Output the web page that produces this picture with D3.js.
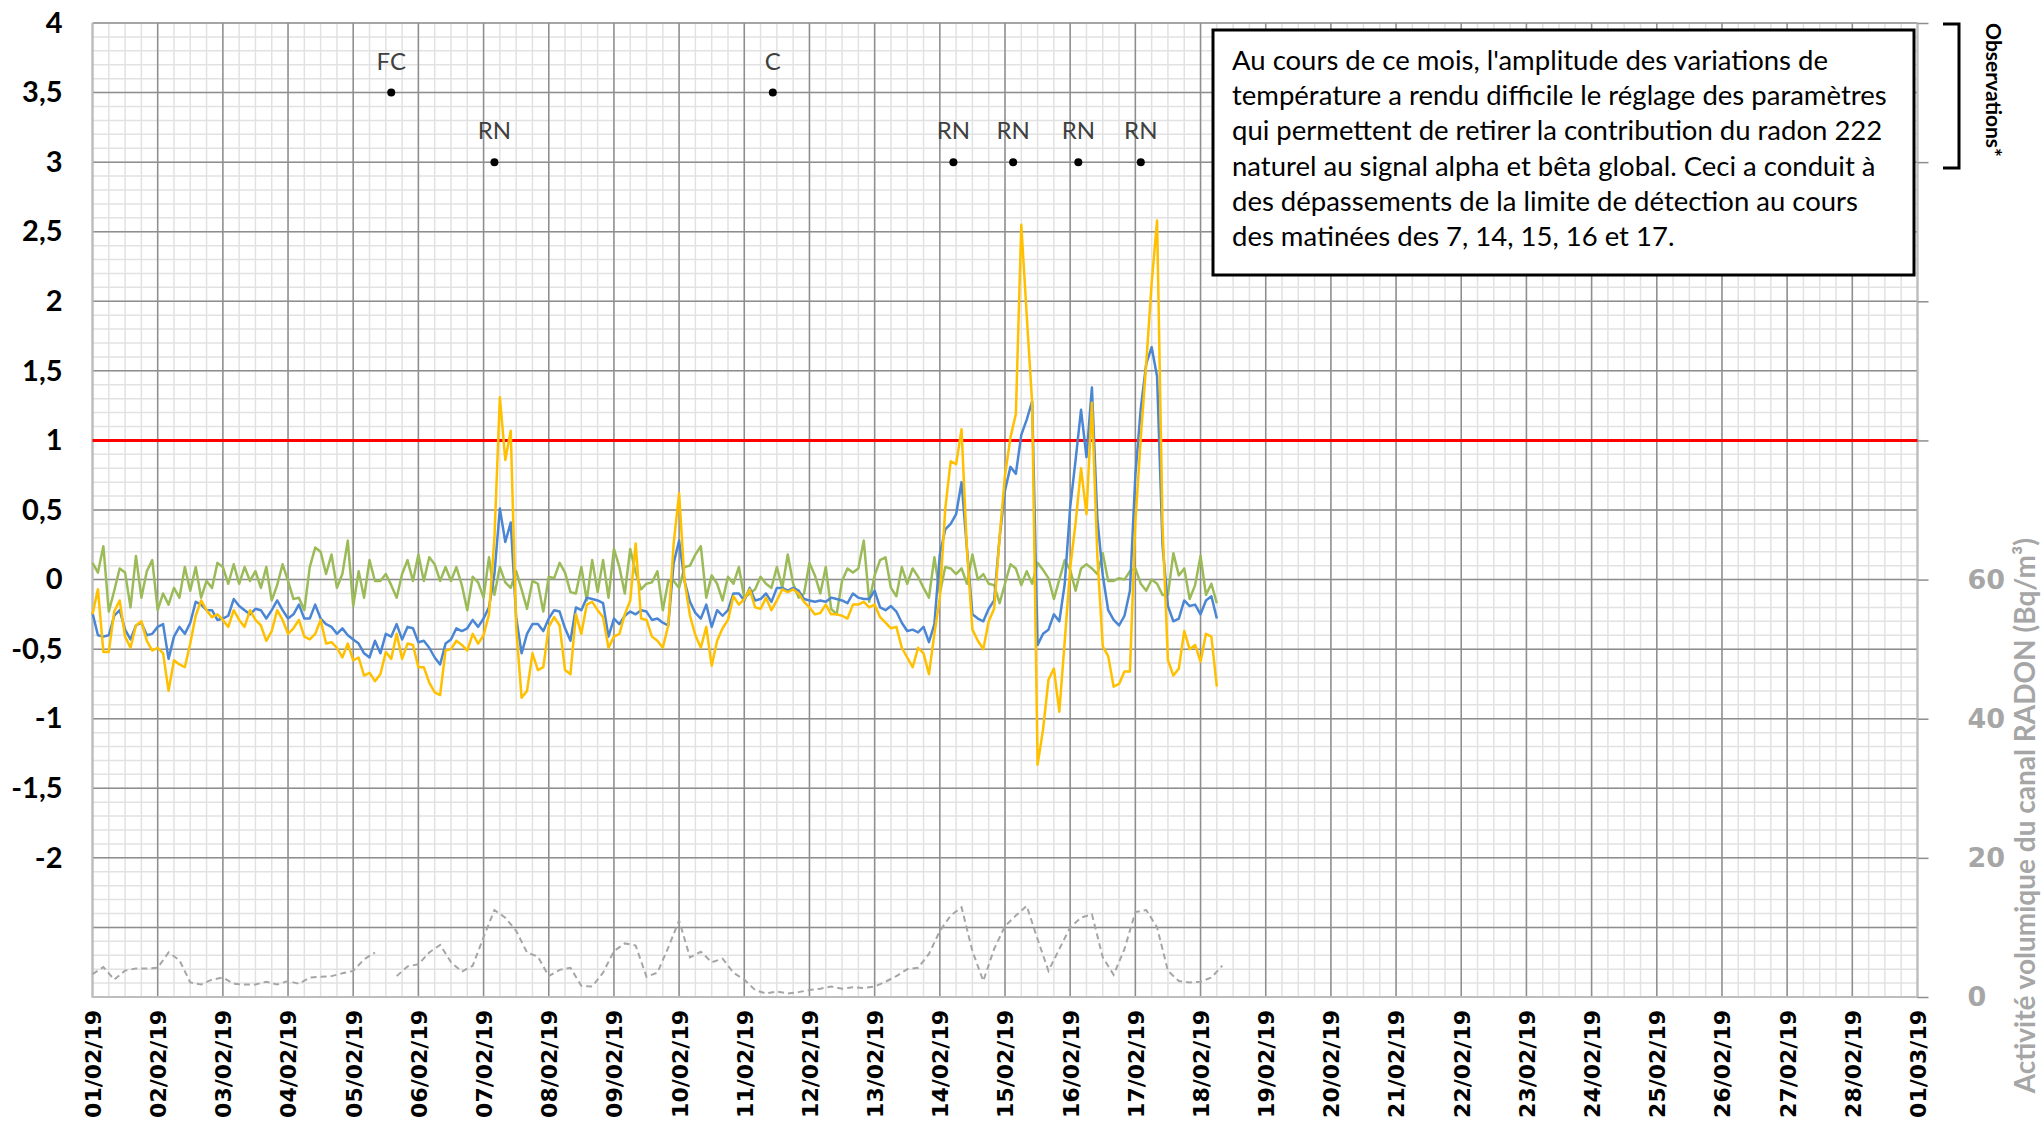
<!DOCTYPE html>
<html>
<head>
<meta charset="utf-8">
<script src="https://cdn.jsdelivr.net/npm/d3@7"></script>
<style>
  body { margin: 0; background: #fff; }
  svg { display: block; }
</style>
</head>
<body>
<div class="chart"></div>
<script>
// Series are sampled every 2 hours starting 01/02/19 00:00 (radon every 4 hours)
let startDate = new Date(2019, 1, 1);
let endDate = new Date(2019, 2, 1);
let stepHours = 2;
let radonStepHours = 4;

// blue series
let alpha = [
  -0.24, -0.40, -0.41, -0.40, -0.26, -0.22, -0.36, -0.43, -0.33, -0.31, -0.40, -0.39,
  -0.34, -0.32, -0.57, -0.41, -0.34, -0.39, -0.31, -0.16, -0.18, -0.22, -0.22, -0.29,
  -0.28, -0.26, -0.14, -0.19, -0.22, -0.25, -0.21, -0.22, -0.28, -0.22, -0.15, -0.22,
  -0.28, -0.25, -0.18, -0.28, -0.28, -0.18, -0.28, -0.32, -0.34, -0.39, -0.35, -0.40,
  -0.43, -0.46, -0.53, -0.56, -0.44, -0.53, -0.39, -0.41, -0.32, -0.43, -0.34, -0.35,
  -0.45, -0.44, -0.49, -0.56, -0.61, -0.46, -0.43, -0.35, -0.37, -0.35, -0.29, -0.34,
  -0.28, -0.20, 0.04, 0.51, 0.27, 0.41, -0.27, -0.53, -0.39, -0.32, -0.32, -0.37,
  -0.28, -0.22, -0.23, -0.35, -0.44, -0.20, -0.22, -0.13, -0.14, -0.15, -0.17, -0.41,
  -0.28, -0.32, -0.26, -0.23, -0.25, -0.22, -0.23, -0.29, -0.28, -0.31, -0.33, 0.12,
  0.28, -0.01, -0.16, -0.24, -0.28, -0.18, -0.34, -0.22, -0.26, -0.22, -0.10, -0.10,
  -0.15, -0.06, -0.15, -0.14, -0.10, -0.16, -0.06, -0.06, -0.08, -0.06, -0.08, -0.14,
  -0.15, -0.16, -0.15, -0.16, -0.13, -0.14, -0.15, -0.17, -0.10, -0.13, -0.14, -0.14,
  -0.08, -0.20, -0.22, -0.19, -0.23, -0.31, -0.37, -0.36, -0.38, -0.34, -0.45, -0.32,
  0.18, 0.36, 0.40, 0.47, 0.70, 0.22, -0.25, -0.28, -0.30, -0.21, -0.15, 0.30,
  0.64, 0.81, 0.76, 1.04, 1.15, 1.28, -0.47, -0.39, -0.36, -0.25, -0.30, -0.03,
  0.52, 0.86, 1.22, 0.88, 1.38, 0.44, 0.03, -0.22, -0.29, -0.33, -0.26, -0.08,
  0.75, 1.23, 1.55, 1.67, 1.46, 0.25, -0.19, -0.30, -0.28, -0.15, -0.19, -0.18,
  -0.25, -0.15, -0.12, -0.28
];

// yellow series
let beta = [
  -0.25, -0.07, -0.52, -0.52, -0.23, -0.15, -0.41, -0.49, -0.33, -0.30, -0.44, -0.51,
  -0.49, -0.53, -0.80, -0.58, -0.61, -0.63, -0.46, -0.26, -0.15, -0.22, -0.27, -0.25,
  -0.29, -0.34, -0.22, -0.29, -0.34, -0.22, -0.29, -0.33, -0.44, -0.37, -0.22, -0.29,
  -0.39, -0.35, -0.29, -0.41, -0.43, -0.39, -0.29, -0.46, -0.45, -0.49, -0.56, -0.46,
  -0.58, -0.56, -0.69, -0.67, -0.73, -0.68, -0.52, -0.57, -0.39, -0.57, -0.46, -0.47,
  -0.63, -0.63, -0.74, -0.81, -0.83, -0.51, -0.50, -0.44, -0.47, -0.51, -0.39, -0.46,
  -0.40, -0.25, 0.30, 1.31, 0.86, 1.07, -0.34, -0.85, -0.80, -0.53, -0.65, -0.63,
  -0.34, -0.27, -0.33, -0.65, -0.68, -0.25, -0.39, -0.18, -0.16, -0.22, -0.27, -0.49,
  -0.41, -0.39, -0.25, -0.15, 0.26, -0.28, -0.29, -0.41, -0.44, -0.49, -0.33, 0.26,
  0.62, -0.01, -0.26, -0.40, -0.49, -0.34, -0.62, -0.44, -0.35, -0.29, -0.12, -0.18,
  -0.14, -0.07, -0.20, -0.21, -0.13, -0.22, -0.15, -0.07, -0.09, -0.07, -0.10, -0.16,
  -0.20, -0.25, -0.24, -0.18, -0.25, -0.25, -0.26, -0.28, -0.18, -0.18, -0.16, -0.20,
  -0.18, -0.27, -0.31, -0.35, -0.34, -0.49, -0.56, -0.63, -0.49, -0.53, -0.68, -0.39,
  -0.13, 0.51, 0.85, 0.83, 1.08, 0.21, -0.36, -0.44, -0.50, -0.30, -0.21, 0.30,
  0.75, 1.02, 1.19, 2.55, 1.90, 1.27, -1.33, -1.08, -0.72, -0.64, -0.95, -0.44,
  0.08, 0.41, 0.80, 0.47, 1.27, 0.17, -0.48, -0.55, -0.77, -0.75, -0.66, -0.66,
  0.41, 1.02, 1.55, 2.13, 2.58, 0.39, -0.58, -0.69, -0.64, -0.37, -0.50, -0.47,
  -0.59, -0.39, -0.41, -0.77
];

// green series
let gamma = [
  0.12, 0.05, 0.24, -0.23, -0.08, 0.08, 0.05, -0.20, 0.17, -0.13, 0.06, 0.14,
  -0.22, -0.10, -0.18, -0.06, -0.13, 0.09, -0.08, 0.09, -0.13, -0.01, -0.06, 0.12,
  0.09, -0.03, 0.11, -0.03, 0.09, -0.01, 0.06, -0.06, 0.09, -0.15, -0.04, 0.11,
  -0.01, -0.14, -0.13, -0.22, 0.09, 0.23, 0.20, 0.04, 0.18, -0.06, 0.04, 0.28,
  -0.19, 0.06, -0.13, 0.14, -0.01, -0.01, 0.04, -0.04, -0.13, 0.04, 0.14, -0.01,
  0.18, -0.01, 0.16, 0.11, -0.01, 0.09, -0.01, 0.09, -0.04, -0.22, 0.02, -0.02,
  -0.13, 0.16, -0.11, 0.09, -0.02, -0.06, 0.06, -0.07, -0.21, -0.01, -0.03, -0.23,
  0.02, 0.01, 0.12, 0.05, -0.09, -0.10, 0.09, -0.15, 0.14, -0.09, 0.14, -0.13,
  0.22, 0.09, -0.10, 0.22, 0.05, -0.07, -0.03, -0.02, 0.06, -0.22, -0.01, -0.01,
  -0.06, 0.09, 0.10, 0.18, 0.24, -0.13, 0.03, -0.03, -0.15, 0.02, -0.03, 0.09,
  -0.13, -0.10, -0.07, 0.02, -0.03, -0.06, 0.09, -0.06, 0.18, -0.03, -0.13, -0.10,
  0.12, 0.03, -0.10, 0.09, -0.21, -0.25, -0.01, 0.08, 0.05, 0.08, 0.28, -0.16,
  0.03, 0.14, 0.16, -0.06, -0.12, 0.09, -0.03, 0.08, 0.02, -0.06, -0.13, 0.16,
  -0.10, 0.09, 0.08, 0.04, 0.08, -0.03, 0.18, 0.00, 0.04, -0.03, -0.04, -0.17,
  -0.03, 0.11, 0.08, -0.04, 0.06, -0.03, 0.12, 0.07, 0.01, -0.14, 0.00, 0.14,
  0.07, -0.08, 0.08, 0.11, 0.08, 0.04, 0.19, -0.01, -0.01, 0.01, 0.00, 0.06,
  0.08, -0.03, -0.08, 0.00, -0.03, -0.11, -0.11, 0.19, 0.03, 0.08, -0.14, -0.04,
  0.17, -0.11, -0.03, -0.17
];

// radon activity (Bq/m3), right axis, null = missing sample
let radon = [
  3.3, 4.3, 2.5, 3.8, 4.1, 4.1,
  4.2, 6.4, 5.3, 2.1, 1.8, 2.5,
  2.8, 1.9, 1.8, 1.8, 2.2, 1.8,
  2.3, 1.9, 2.8, 2.9, 3.0, 3.4,
  3.75, 5.4, 6.4, null, 3.0, 4.4,
  4.7, 6.4, 7.5, 5.0, 3.65, 4.5,
  8.6, 12.5, 11.4, 9.5, 6.4, 5.8,
  3.0, 3.9, 4.2, 1.6, 1.5, 3.5,
  6.6, 7.7, 7.4, 2.9, 3.5, 7.1,
  11.0, 5.7, 6.5, 5.0, 5.5, 3.5,
  2.5, 1.0, 0.5, 0.8, 0.5, 0.7,
  1.0, 1.2, 1.5, 1.2, 1.4, 1.3,
  1.5, 2.2, 3.0, 4.0, 4.2, 6.2,
  9.5, 11.7, 12.9, 6.6, 2.3, 6.9,
  10.2, 11.7, 13.1, 8.3, 3.75, 6.9,
  10.0, 11.4, 11.9, 5.7, 3.2, 6.9,
  12.2, 12.5, 10.0, 3.75, 2.3, 2.1,
  2.2, 2.8, 4.5
];

let detectionLimit = 1;
let leftTicks = [-2, -1.5, -1, -0.5, 0, 0.5, 1, 1.5, 2, 2.5, 3, 3.5, 4];
let rightTicks = [0, 20, 40, 60, 80, 100, 120, 140];
let rightLabels = [0, 20, 40, 60];

let noteLabels = ["FC", "C", "RN", "RN", "RN", "RN", "RN"];
let noteTimes = ["05/02/19 14:00", "11/02/19 10:30", "07/02/19 04:00", "14/02/19 05:00",
  "15/02/19 03:00", "16/02/19 03:00", "17/02/19 02:00"];
let noteLevels = [3.5, 3.5, 3, 3, 3, 3, 3];

let boxLines = [
  "Au cours de ce mois, l'amplitude des variations de",
  "température a rendu difficile le réglage des paramètres",
  "qui permettent de retirer la contribution du radon 222",
  "naturel au signal alpha et bêta global. Ceci a conduit à",
  "des dépassements de la limite de détection au cours",
  "des matinées des 7, 14, 15, 16 et 17."
];

let svgWidth = 2044;
let svgHeight = 1122;
let margin = { top: 23, right: 126.5, bottom: 125, left: 92.5 };
let width = svgWidth - margin.left - margin.right;
let height = svgHeight - margin.top - margin.bottom;

let svg = d3.select(".chart")
  .append("svg")
  .attr("width", svgWidth)
  .attr("height", svgHeight);

let chartGroup = svg.append("g")
  .attr("transform", `translate(${margin.left}, ${margin.top})`);

let x = d3.scaleTime().domain([startDate, endDate]).range([0, width]);
let y = d3.scaleLinear().domain([-3, 4]).range([height, 0]);
let yRight = d3.scaleLinear().domain([0, 140]).range([height, 0]);

let frLocale = d3.formatLocale({ decimal: ",", thousands: " ", grouping: [3], currency: ["", " €"], minus: "-" });
let fmt = frLocale.format("");

// minor gridlines
let minorTimes = d3.timeHour.every(6).range(startDate, endDate);
let minorValues = d3.range(-30, 41).map(d => d / 10);
chartGroup.append("g").selectAll("line.vminor")
  .data(minorTimes)
  .enter().append("line")
  .attr("x1", d => x(d)).attr("x2", d => x(d))
  .attr("y1", 0).attr("y2", height)
  .attr("stroke", "#e2e2e2").attr("stroke-width", 1.5);
chartGroup.append("g").selectAll("line.hminor")
  .data(minorValues)
  .enter().append("line")
  .attr("x1", 0).attr("x2", width)
  .attr("y1", d => y(d)).attr("y2", d => y(d))
  .attr("stroke", "#e2e2e2").attr("stroke-width", 1.5);

// major gridlines
let dayTimes = d3.timeDay.range(startDate, d3.timeDay.offset(endDate, 1));
let majorValues = d3.range(-6, 9).map(d => d / 2);
chartGroup.append("g").selectAll("line")
  .data(dayTimes)
  .enter().append("line")
  .attr("x1", d => x(d)).attr("x2", d => x(d))
  .attr("y1", 0).attr("y2", height)
  .attr("stroke", "#8e8e8e").attr("stroke-width", 1.5);
chartGroup.append("g").selectAll("line")
  .data(majorValues)
  .enter().append("line")
  .attr("x1", 0).attr("x2", width)
  .attr("y1", d => y(d)).attr("y2", d => y(d))
  .attr("stroke", "#8e8e8e").attr("stroke-width", 1.5);

// plot frame (left, bottom, right)
chartGroup.append("path")
  .attr("d", `M0,0V${height}H${width}V0`)
  .attr("fill", "none")
  .attr("stroke", "#bdbdbd")
  .attr("stroke-width", 2);

// left axis labels
let leftAxis = d3.axisLeft(y).tickValues(leftTicks).tickFormat(fmt).tickSize(0).tickPadding(30);
let leftG = chartGroup.append("g").call(leftAxis);
leftG.select(".domain").remove();
leftG.selectAll("text")
  .attr("font-family", "Lato, 'Open Sans', sans-serif")
  .attr("font-weight", "bold")
  .attr("font-size", 29)
  .attr("fill", "#000");

// bottom axis labels
let bottomAxis = d3.axisBottom(x)
  .tickValues(dayTimes)
  .tickFormat(d3.timeFormat("%d/%m/%y"))
  .tickSize(0);
let bottomG = chartGroup.append("g")
  .attr("transform", `translate(0, ${height})`)
  .call(bottomAxis);
bottomG.select(".domain").remove();
bottomG.selectAll("text")
  .attr("transform", "rotate(-90)")
  .attr("text-anchor", "end")
  .attr("x", -13)
  .attr("y", 0)
  .attr("dy", "0.36em")
  .attr("font-family", "'DejaVu Sans', Verdana, sans-serif")
  .attr("font-weight", "bold")
  .attr("font-size", 22)
  .attr("fill", "#000");

// right axis (radon)
let rightAxis = d3.axisRight(yRight)
  .tickValues(rightTicks)
  .tickFormat(d => rightLabels.includes(d) ? d : "")
  .tickSize(11)
  .tickPadding(39);
let rightG = chartGroup.append("g")
  .attr("transform", `translate(${width}, 0)`)
  .call(rightAxis);
rightG.select(".domain").remove();
rightG.selectAll("line").attr("stroke", "#8e8e8e").attr("stroke-width", 1.5);
rightG.selectAll("text")
  .attr("font-family", "'DejaVu Sans', Verdana, sans-serif")
  .attr("font-weight", "bold")
  .attr("font-size", 27)
  .attr("fill", "#a6a6a6");

svg.append("text")
  .attr("transform", `translate(2025, 538) rotate(-90)`)
  .attr("text-anchor", "end")
  .attr("dy", "0.35em")
  .attr("font-family", "Lato, 'Open Sans', sans-serif")
  .attr("font-weight", "bold")
  .attr("font-size", 28)
  .attr("fill", "#a6a6a6")
  .text("Activité volumique du canal RADON (Bq/m³)");

// detection limit
chartGroup.append("line")
  .attr("x1", 0).attr("x2", width)
  .attr("y1", y(detectionLimit)).attr("y2", y(detectionLimit))
  .attr("stroke", "#ff0000")
  .attr("stroke-width", 3);

// series
function toPoints(values, hours) {
  return values.map((v, i) => ({ t: d3.timeHour.offset(startDate, i * hours), v: v }));
}
let line = d3.line()
  .defined(d => d.v !== null)
  .x(d => x(d.t))
  .y(d => y(d.v));
let radonLine = d3.line()
  .defined(d => d.v !== null)
  .x(d => x(d.t))
  .y(d => yRight(d.v));

chartGroup.append("path")
  .datum(toPoints(radon, radonStepHours))
  .attr("d", radonLine)
  .attr("fill", "none")
  .attr("stroke", "#a6a6a6")
  .attr("stroke-width", 2)
  .attr("stroke-dasharray", "6,4");

let seriesList = [
  { values: gamma, color: "#9bbb59" },
  { values: alpha, color: "#4a86d4" },
  { values: beta, color: "#ffc000" }
];
seriesList.forEach(function(s) {
  chartGroup.append("path")
    .datum(toPoints(s.values, stepHours))
    .attr("d", line)
    .attr("fill", "none")
    .attr("stroke", s.color)
    .attr("stroke-width", 2.5)
    .attr("stroke-linejoin", "round");
});

// event markers
let parseTime = d3.timeParse("%d/%m/%y %H:%M");
let notes = noteLabels.map((l, i) => ({ label: l, t: parseTime(noteTimes[i]), v: noteLevels[i] }));
let noteG = chartGroup.append("g");
noteG.selectAll("circle")
  .data(notes)
  .enter().append("circle")
  .attr("cx", d => x(d.t))
  .attr("cy", d => y(d.v))
  .attr("r", 4)
  .attr("fill", "#000");
noteG.selectAll("text")
  .data(notes)
  .enter().append("text")
  .attr("x", d => x(d.t))
  .attr("y", d => y(d.v) - 23)
  .attr("text-anchor", "middle")
  .attr("font-family", "Lato, 'Open Sans', sans-serif")
  .attr("font-size", 24)
  .attr("fill", "#404040")
  .text(d => d.label);

// comment box
let boxG = svg.append("g");
boxG.append("rect")
  .attr("x", 1213).attr("y", 30)
  .attr("width", 701).attr("height", 245)
  .attr("fill", "#fff")
  .attr("stroke", "#000")
  .attr("stroke-width", 3);
boxG.selectAll("text")
  .data(boxLines)
  .enter().append("text")
  .attr("x", 1232)
  .attr("y", (d, i) => 70 + i * 35.2)
  .attr("font-family", "Lato, 'Open Sans', sans-serif")
  .attr("font-size", 27.5)
  .attr("fill", "#000")
  .text(d => d);

// observations bracket
svg.append("path")
  .attr("d", "M1943,24H1959V168H1943")
  .attr("fill", "none")
  .attr("stroke", "#000")
  .attr("stroke-width", 3);
svg.append("text")
  .attr("transform", "translate(1993, 90) rotate(90)")
  .attr("text-anchor", "middle")
  .attr("dy", "0.35em")
  .attr("font-family", "Lato, 'Open Sans', sans-serif")
  .attr("font-weight", "bold")
  .attr("font-size", 21)
  .attr("fill", "#000")
  .text("Observations*");
</script>
</body>
</html>
